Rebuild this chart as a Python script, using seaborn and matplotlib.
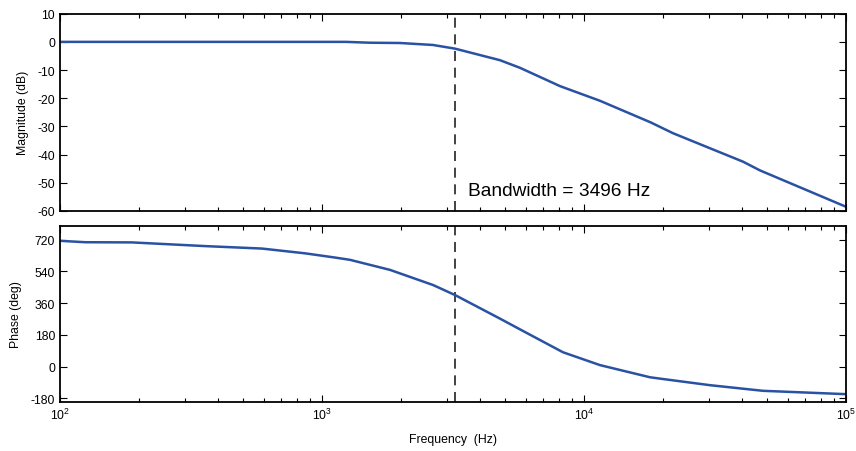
import numpy as np
import pandas as pd
import matplotlib
matplotlib.use("Agg")
import matplotlib.pyplot as plt
import seaborn as sns
from matplotlib.ticker import LogLocator, NullFormatter, FixedLocator

# ---- data ----
mag_freq = [100, 1235, 1525, 1985, 2653, 3219, 4779, 5696, 8100, 11510,
            18000, 21860, 30000, 40450, 46960, 100000]
mag_db = [0.0, 0.0, -0.3, -0.4, -1.1, -2.4, -6.5, -9.2, -15.7, -20.9,
          -28.6, -32.4, -37.6, -42.5, -45.6, -58.5]

phase_freq = [100, 125, 188, 358, 590, 861, 1121, 1279, 1817, 2653, 3219,
              4779, 5850, 8314, 11510, 17860, 20020, 30260, 48220, 100000]
phase_deg = [714, 706, 705, 684, 670, 643, 619, 606, 549, 463, 406,
             272, 202, 81, 8, -61, -71, -106, -138, -157]

bandwidth_freq = 3220
bandwidth_label = "Bandwidth = 3496 Hz"
mag_yticks = [10, 0, -10, -20, -30, -40, -50, -60]
phase_yticks = [720, 540, 360, 180, 0, -180]

sns.set_style("ticks")
plt.rcParams['font.family'] = ['Liberation Sans', 'DejaVu Sans']
plt.rcParams['mathtext.fontset'] = 'custom'
plt.rcParams['mathtext.rm'] = 'Liberation Sans'
plt.rcParams['mathtext.it'] = 'Liberation Sans'
plt.rcParams['axes.unicode_minus'] = False
plt.rcParams['text.color'] = 'black'
plt.rcParams['axes.labelcolor'] = 'black'
plt.rcParams['xtick.color'] = 'black'
plt.rcParams['ytick.color'] = 'black'

line_color = "#2a52a3"
fs = 8.8

fig = plt.figure(figsize=(8.56, 4.52), dpi=100)
ax1 = fig.add_axes([0.0701, 0.531, 0.9182, 0.4365])
ax2 = fig.add_axes([0.0701, 0.109, 0.9182, 0.3895])

mag_df = pd.DataFrame({"freq": mag_freq, "mag": mag_db})
ph_df = pd.DataFrame({"freq": phase_freq, "phase": phase_deg})

sns.lineplot(data=mag_df, x="freq", y="mag", ax=ax1, color=line_color, lw=1.8)
sns.lineplot(data=ph_df, x="freq", y="phase", ax=ax2, color=line_color, lw=1.8)

for ax in (ax1, ax2):
    ax.set_xscale("log")
    ax.set_xlim(100, 100000)
    ax.axvline(bandwidth_freq, color="#222222", lw=1.2, ls=(0, (6, 4)), zorder=1)
    ax.xaxis.set_major_locator(LogLocator(base=10))
    ax.xaxis.set_minor_locator(LogLocator(base=10, subs=np.arange(2, 10)))
    ax.xaxis.set_minor_formatter(NullFormatter())
    ax.tick_params(which="both", top=True, right=True, labelsize=fs,
                   direction="in", width=0.8, colors="black")
    ax.tick_params(which="major", length=5)
    ax.tick_params(which="minor", length=3)
    for s in ax.spines.values():
        s.set_linewidth(1.3)
        s.set_color("black")

ax1.set_ylim(-60, 10)
ax1.yaxis.set_major_locator(FixedLocator(mag_yticks))
ax1.tick_params(axis="x", labelbottom=False)
ax1.set_xlabel("")
ax1.set_ylabel("Magnitude (dB)", fontsize=fs, labelpad=6)
ax1.text(3606, -52.9, bandwidth_label, fontsize=13.8, va="center", ha="left",
         color="black")

ax2.set_ylim(-200, 800)
ax2.yaxis.set_major_locator(FixedLocator(phase_yticks))
ax2.set_ylabel("Phase (deg)", fontsize=fs, labelpad=6)
ax2.set_xlabel("Frequency  (Hz)", fontsize=fs, labelpad=8)

fig.savefig("out.png", dpi=100)
